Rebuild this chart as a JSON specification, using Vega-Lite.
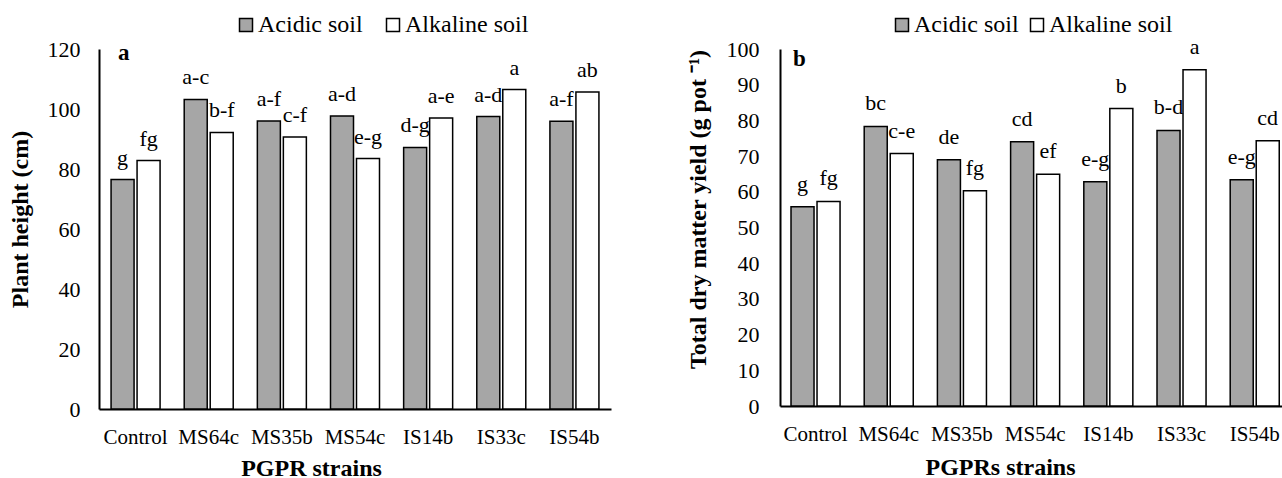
{
  "$schema": "https://vega.github.io/schema/vega-lite/v6.json",
  "padding": {"left": 8, "top": 13, "right": 0, "bottom": 0},
  "background": "white",
  "spacing": 75,
  "config": {
    "font": "Liberation Serif, Times New Roman, serif",
    "view": {"stroke": null},
    "axis": {
      "domainColor": "black", "domainWidth": 2, "ticks": false, "grid": false,
      "labelColor": "black", "titleColor": "black",
      "labelFont": "Liberation Serif, Times New Roman, serif", "titleFont": "Liberation Serif, Times New Roman, serif",
      "labelFontSize": 21, "titleFontSize": 24, "titleFontWeight": "bold"
    },
    "axisY": {"labelFontSize": 22},
    "legend": {"labelFont": "Liberation Serif, Times New Roman, serif"},
    "title": {"font": "Liberation Serif, Times New Roman, serif"},
    "text": {"font": "Liberation Serif, Times New Roman, serif"}
  },
  "datasets": {
    "height": [
      {"strain": "Control", "soil": "Acidic soil", "value": 76.5, "letter": "g"},
      {"strain": "Control", "soil": "Alkaline soil", "value": 82.8, "letter": "fg"},
      {"strain": "MS64c", "soil": "Acidic soil", "value": 103.2, "letter": "a-c"},
      {"strain": "MS64c", "soil": "Alkaline soil", "value": 92.2, "letter": "b-f"},
      {"strain": "MS35b", "soil": "Acidic soil", "value": 96.0, "letter": "a-f"},
      {"strain": "MS35b", "soil": "Alkaline soil", "value": 90.7, "letter": "c-f"},
      {"strain": "MS54c", "soil": "Acidic soil", "value": 97.7, "letter": "a-d"},
      {"strain": "MS54c", "soil": "Alkaline soil", "value": 83.5, "letter": "e-g"},
      {"strain": "IS14b", "soil": "Acidic soil", "value": 87.2, "letter": "d-g"},
      {"strain": "IS14b", "soil": "Alkaline soil", "value": 97.0, "letter": "a-e"},
      {"strain": "IS33c", "soil": "Acidic soil", "value": 97.5, "letter": "a-d"},
      {"strain": "IS33c", "soil": "Alkaline soil", "value": 106.5, "letter": "a"},
      {"strain": "IS54b", "soil": "Acidic soil", "value": 95.9, "letter": "a-f"},
      {"strain": "IS54b", "soil": "Alkaline soil", "value": 105.7, "letter": "ab"}
    ],
    "yield": [
      {"strain": "Control", "soil": "Acidic soil", "value": 55.8, "letter": "g"},
      {"strain": "Control", "soil": "Alkaline soil", "value": 57.3, "letter": "fg"},
      {"strain": "MS64c", "soil": "Acidic soil", "value": 78.3, "letter": "bc"},
      {"strain": "MS64c", "soil": "Alkaline soil", "value": 70.7, "letter": "c-e"},
      {"strain": "MS35b", "soil": "Acidic soil", "value": 69.0, "letter": "de"},
      {"strain": "MS35b", "soil": "Alkaline soil", "value": 60.3, "letter": "fg"},
      {"strain": "MS54c", "soil": "Acidic soil", "value": 74.0, "letter": "cd"},
      {"strain": "MS54c", "soil": "Alkaline soil", "value": 64.9, "letter": "ef"},
      {"strain": "IS14b", "soil": "Acidic soil", "value": 62.8, "letter": "e-g"},
      {"strain": "IS14b", "soil": "Alkaline soil", "value": 83.3, "letter": "b"},
      {"strain": "IS33c", "soil": "Acidic soil", "value": 77.2, "letter": "b-d"},
      {"strain": "IS33c", "soil": "Alkaline soil", "value": 94.2, "letter": "a"},
      {"strain": "IS54b", "soil": "Acidic soil", "value": 63.4, "letter": "e-g"},
      {"strain": "IS54b", "soil": "Alkaline soil", "value": 74.3, "letter": "cd"}
    ]
  },
  "hconcat": [
    {
      "width": 512, "height": 360,
      "data": {"name": "height"},
      "title": {"text": "a", "anchor": "start", "frame": "group", "orient": "top", "offset": -70, "dx": 19, "baseline": "alphabetic", "fontSize": 23, "fontWeight": "bold", "color": "black"},
      "encoding": {
        "x": {"field": "strain", "type": "nominal", "sort": null,
              "scale": {"paddingInner": 0.33, "paddingOuter": 0.165},
              "axis": {"labelAngle": 0, "labelPadding": 17, "title": "PGPR strains", "titlePadding": 9, "titleX": 212}},
        "xOffset": {"field": "soil", "type": "nominal", "scale": {"paddingInner": 0.115, "paddingOuter": 0}},
        "y": {"field": "value", "type": "quantitative", "scale": {"domain": [0, 120], "nice": false},
              "axis": {"values": [0, 20, 40, 60, 80, 100, 120], "labelPadding": 19, "title": "Plant height (cm)", "titlePadding": 15, "titleY": 170}}
      },
      "layer": [
        {"mark": {"type": "bar", "stroke": "black", "strokeWidth": 1.5},
         "encoding": {"color": {"field": "soil", "type": "nominal",
           "scale": {"domain": ["Acidic soil", "Alkaline soil"], "range": ["#a6a6a6", "#ffffff"]},
           "legend": {"title": null, "orient": "none", "legendX": 135, "legendY": -36, "direction": "horizontal",
             "symbolType": "square", "symbolSize": 169, "symbolStrokeColor": "black", "symbolStrokeWidth": 1.5, "symbolOpacity": 1,
             "labelFontSize": 24, "labelColor": "black", "labelOffset": 0, "columnPadding": 18, "padding": 0}}}},
        {"mark": {"type": "text", "baseline": "alphabetic", "dy": -15, "fontSize": 22, "color": "black"},
         "encoding": {"text": {"field": "letter", "type": "nominal"}}}
      ]
    },
    {
      "width": 502, "height": 357,
      "data": {"name": "yield"},
      "title": {"text": "b", "anchor": "start", "frame": "group", "orient": "top", "offset": -76, "dx": 13, "baseline": "alphabetic", "fontSize": 23, "fontWeight": "bold", "color": "black"},
      "encoding": {
        "x": {"field": "strain", "type": "nominal", "sort": null,
              "scale": {"paddingInner": 0.33, "paddingOuter": 0.094, "align": 0.8},
              "axis": {"labelAngle": 0, "labelPadding": 17, "title": "PGPRs strains", "titlePadding": 11, "titleX": 220}},
        "xOffset": {"field": "soil", "type": "nominal", "scale": {"paddingInner": 0.115, "paddingOuter": 0}},
        "y": {"field": "value", "type": "quantitative", "scale": {"domain": [0, 100], "nice": false},
              "axis": {"values": [0, 10, 20, 30, 40, 50, 60, 70, 80, 90, 100], "labelPadding": 21, "title": "Total dry matter yield (g pot ⁻¹)", "titlePadding": 16, "titleY": 160}}
      },
      "layer": [
        {"mark": {"type": "bar", "stroke": "black", "strokeWidth": 1.5},
         "encoding": {"color": {"field": "soil", "type": "nominal",
           "scale": {"domain": ["Acidic soil", "Alkaline soil"], "range": ["#a6a6a6", "#ffffff"]},
           "legend": {"title": null, "orient": "none", "legendX": 110, "legendY": -36, "direction": "horizontal",
             "symbolType": "square", "symbolSize": 169, "symbolStrokeColor": "black", "symbolStrokeWidth": 1.5, "symbolOpacity": 1,
             "labelFontSize": 24, "labelColor": "black", "labelOffset": 0, "columnPadding": 6, "padding": 0}}}},
        {"mark": {"type": "text", "baseline": "alphabetic", "dy": -16, "fontSize": 22, "color": "black"},
         "encoding": {"text": {"field": "letter", "type": "nominal"}}}
      ]
    }
  ],
  "resolve": {"scale": {"color": "independent", "x": "independent", "y": "independent", "xOffset": "independent"}, "legend": {"color": "independent"}}
}
